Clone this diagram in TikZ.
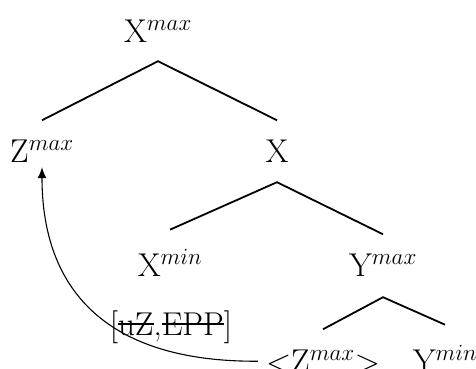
\RequirePackage{fix-cm}
\documentclass[tikz,border=0pt]{standalone}
\usetikzlibrary{arrows.meta}
\newcommand{\struck}[1]{\setbox0\hbox{#1}\rlap{\rule[0.31em]{\wd0}{0.05em}}\box0}
\begin{document}
\begin{tikzpicture}[x=1pt,y=-1pt,
  cat/.style={anchor=base,inner sep=2pt,font=\fontsize{33}{39}\selectfont},
  branch/.style={line width=1.8pt},
  move/.style={line width=1.1pt,-{Latex[length=11pt,width=9pt]},shorten <=6pt,shorten >=3pt}]
\useasboundingbox (0,0) rectangle (476,368);

\node[cat] (xmax) at (158,42) {X$^{max}$};

\node[cat] (zmax) at (42,162) {Z$^{max}$};
\node[cat] (xbar) at (277,162) {X};

\node[cat] (xmin) at (170,276) {X$^{min}$};
\node[cat] (ymax) at (383,276) {Y$^{max}$};

\node[cat] (feat) at (171,335) {[\struck{uZ},\struck{EPP}]};

\node[cat] (zlow) at (323,372) {$<$Z$^{max}$$>$};
\node[cat] (ymin) at (445,372) {Y$^{min}$};

\coordinate (xmaxfoot) at ([yshift=-17pt]xmax.south);
\coordinate (xbarfoot) at ([yshift=-18pt]xbar.south);
\coordinate (ymaxfoot) at ([yshift=-19pt]ymax.south);

\draw[branch] ([yshift=17pt]zmax.north) -- (xmaxfoot) -- ([yshift=17pt]xbar.north);
\draw[branch] ([yshift=17pt]xmin.north) -- (xbarfoot) -- ([yshift=17pt]ymax.north);
\draw[branch] ([yshift=18pt]zlow.north) -- (ymaxfoot) -- ([yshift=18pt]ymin.north);

\draw[move] (zlow.west) .. controls +(-157,1) and +(0,126) .. (zmax.south);
\end{tikzpicture}
\end{document}
